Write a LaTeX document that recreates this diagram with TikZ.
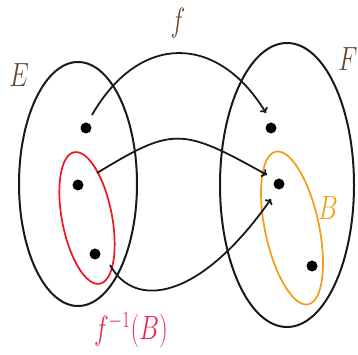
\documentclass[tikz,border=0pt]{standalone}
\usetikzlibrary{arrows.meta}
\definecolor{lblink}{RGB}{105,72,45}
\definecolor{redset}{RGB}{240,20,30}
\definecolor{redlbl}{RGB}{232,35,80}
\definecolor{orangeset}{RGB}{245,155,20}
\begin{document}
\begin{tikzpicture}[x=1pt,y=1pt,
  setline/.style={draw=black!90, line width=2pt},
  subline/.style={line width=1.7pt},
  dotn/.style={circle, fill=black, inner sep=0pt, minimum size=11pt},
  maplink/.style={draw=black!90, line width=1.8pt, -{To[length=5pt,width=9pt]}},
  lbl/.style={inner sep=0pt, font=\fontsize{23}{25}\selectfont},
]
\useasboundingbox (0,0) rectangle (358,355);
% sets
\draw[setline] (78,171) ellipse [x radius=59, y radius=122];
\draw[setline] (287,170) ellipse [x radius=67, y radius=142];
\draw[subline, draw=redset] (87,137) ellipse [x radius=25, y radius=67, rotate=11];
\draw[subline, draw=orangeset] (292,127) ellipse [x radius=27, y radius=78, rotate=12];
% points
\node[dotn] (d1) at (86,227) {};
\node[dotn] (d2) at (78,170) {};
\node[dotn] (d3) at (95,101) {};
\node[dotn] (e1) at (271,227) {};
\node[dotn] (e2) at (279,171) {};
\node[dotn] (e3) at (312,89) {};
% arrow ends
\coordinate (s1) at (92,240);
\coordinate (t1) at (266,242);
\coordinate (s2) at (97,182);
\coordinate (t2) at (267,180);
\coordinate (s3) at (110,90);
\coordinate (t3) at (271,156);
\draw[maplink] (s1) .. controls (139,322) and (217,322) .. (t1);
\draw[maplink] (s2) .. controls (173,228) and (181,228) .. (t2);
\draw[maplink] (s3) .. controls (135,45) and (200,55) .. (t3);
% labels
\node[lbl, text=lblink] (lE) at (19,280) {\scalebox{1}[1.35]{$E$}};
\node[lbl, text=lblink] (lf) at (178,332) {\scalebox{1}[1.35]{$f$}};
\node[lbl, text=lblink] (lF) at (348,296) {\scalebox{1}[1.35]{$F$}};
\node[lbl, text=orangeset] (lB) at (328,147) {\scalebox{1}[1.35]{$B$}};
\node[lbl, text=redlbl] (lfB) at (131,25) {\scalebox{1}[1.35]{$f^{-1}(B)$}};
\end{tikzpicture}
\end{document}
